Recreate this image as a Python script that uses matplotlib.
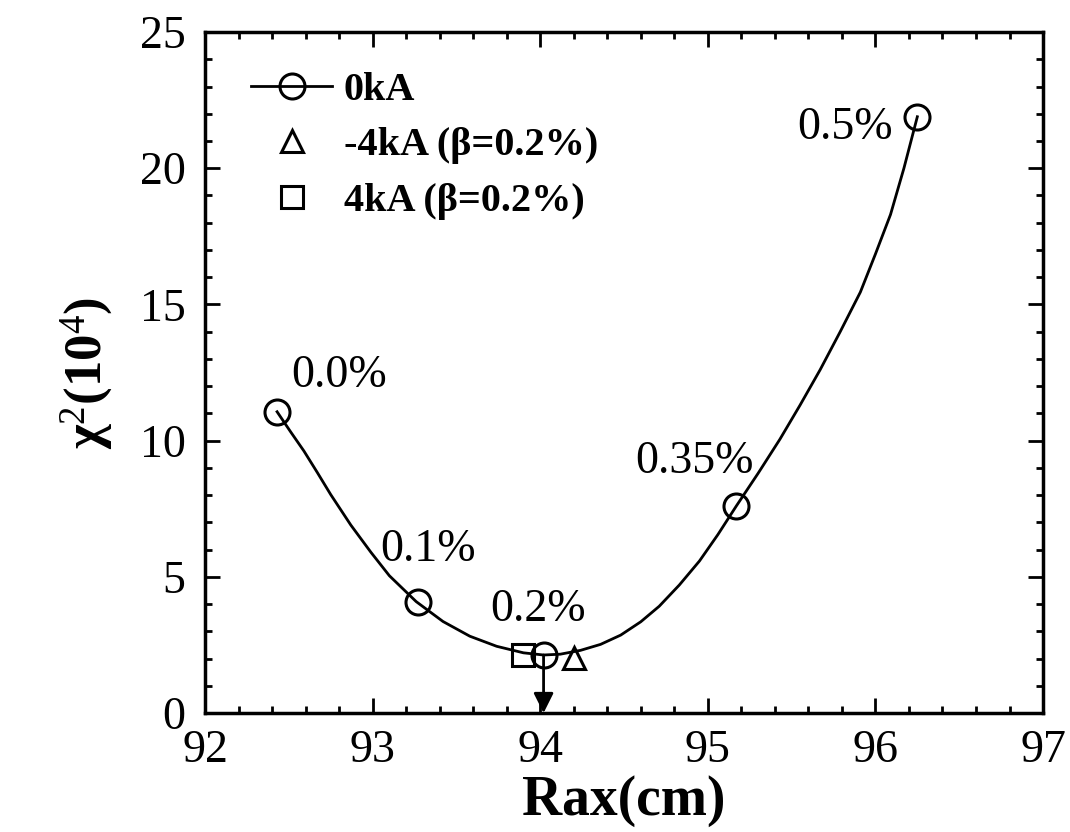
import matplotlib
matplotlib.use("Agg")
import matplotlib.pyplot as plt

# 0kA 点 (Rax, chi^2) 与 beta 标注
rax_0ka = [92.43, 93.27, 94.02, 95.17, 96.25]
chi_0ka = [11.06, 4.09, 2.13, 7.60, 21.89]
beta_lbl = ["0.0%", "0.1%", "0.2%", "0.35%", "0.5%"]
lbl_x = [92.80, 93.33, 93.99, 94.92, 95.82]
lbl_y = [12.40, 5.98, 3.78, 9.21, 21.48]

# 平滑拟合曲线
fit_x = [92.43, 92.51, 92.59, 92.67, 92.75, 92.87, 92.99, 93.10, 93.26, 93.42, 93.58,
         93.74, 93.90, 94.02, 94.12, 94.24, 94.36, 94.48, 94.60, 94.71, 94.83, 94.95,
         95.06, 95.17, 95.30, 95.43, 95.55, 95.67, 95.79, 95.91, 96.00, 96.09, 96.17, 96.25]
fit_y = [11.06, 10.33, 9.62, 8.83, 8.02, 6.90, 5.90, 5.04, 4.09, 3.36, 2.82,
         2.45, 2.21, 2.13, 2.16, 2.30, 2.52, 2.86, 3.35, 3.92, 4.70, 5.58,
         6.55, 7.60, 8.80, 10.05, 11.30, 12.60, 14.00, 15.45, 16.85, 18.30, 20.00, 21.89]

# -4kA / 4kA (beta=0.2%)
rax_m4 = [94.20]
chi_m4 = [2.02]
rax_p4 = [93.90]
chi_p4 = [2.13]

plt.rcParams['font.family'] = ['Liberation Serif', 'DejaVu Serif']
plt.rcParams['mathtext.fontset'] = 'custom'
plt.rcParams['mathtext.rm'] = 'Liberation Serif'
plt.rcParams['mathtext.bf'] = 'Liberation Serif:bold'
plt.rcParams['mathtext.it'] = 'Liberation Serif:italic'

fig = plt.figure(figsize=(10.7, 8.32), dpi=100)
ax = fig.add_axes([0.1916, 0.1430, 0.7832, 0.8185])

mk = dict(markersize=18, markerfacecolor='none', markeredgecolor='black',
          markeredgewidth=2.2, linestyle='none')
curve, = ax.plot(fit_x, fit_y, color='black', lw=2.0)
circ, = ax.plot(rax_0ka, chi_0ka, marker='o', **mk)
tri, = ax.plot(rax_m4, chi_m4, marker='^', **dict(mk, markersize=16))
sq, = ax.plot(rax_p4, chi_p4, marker='s', **dict(mk, markersize=16))

for t, x, y in zip(beta_lbl, lbl_x, lbl_y):
    ax.text(x, y, t, fontsize=33, ha='center', va='center')

# 箭头：0.2% 点指向横轴
ax.annotate('', xy=(rax_0ka[2], 0), xytext=(rax_0ka[2], chi_0ka[2]),
            arrowprops=dict(arrowstyle='-|>', color='black', lw=2.0,
                            mutation_scale=30, shrinkA=0, shrinkB=0))

ax.set_xlim(92, 97)
ax.set_ylim(0, 25)
ax.set_xticks([92, 93, 94, 95, 96, 97])
ax.set_yticks([0, 5, 10, 15, 20, 25])
ax.set_xticks([92 + 0.2 * i for i in range(26)], minor=True)
ax.set_yticks(list(range(26)), minor=True)
ax.tick_params(which='both', direction='in', top=True, right=True, labelsize=33, width=2)
ax.tick_params(which='major', length=11)
ax.tick_params(which='minor', length=5)
ax.tick_params(axis='x', pad=12)
ax.tick_params(axis='y', pad=14)
for s in ax.spines.values():
    s.set_linewidth(2.5)

ax.set_xlabel('Rax(cm)', fontsize=40, fontweight='bold', labelpad=2)
ax.set_ylabel('χ$^2$(10$^4$)', fontsize=38, fontweight='bold', labelpad=18)

leg = ax.legend([(curve, circ), tri, sq],
                ['0kA', '-4kA (β=0.2%)', '4kA (β=0.2%)'],
                loc='upper left', bbox_to_anchor=(0.036, 0.965), borderaxespad=0,
                frameon=False, handlelength=2.0, handletextpad=0.3,
                labelspacing=0.45, prop=dict(size=29, weight='bold'))

fig.savefig('out.png', dpi=100)
